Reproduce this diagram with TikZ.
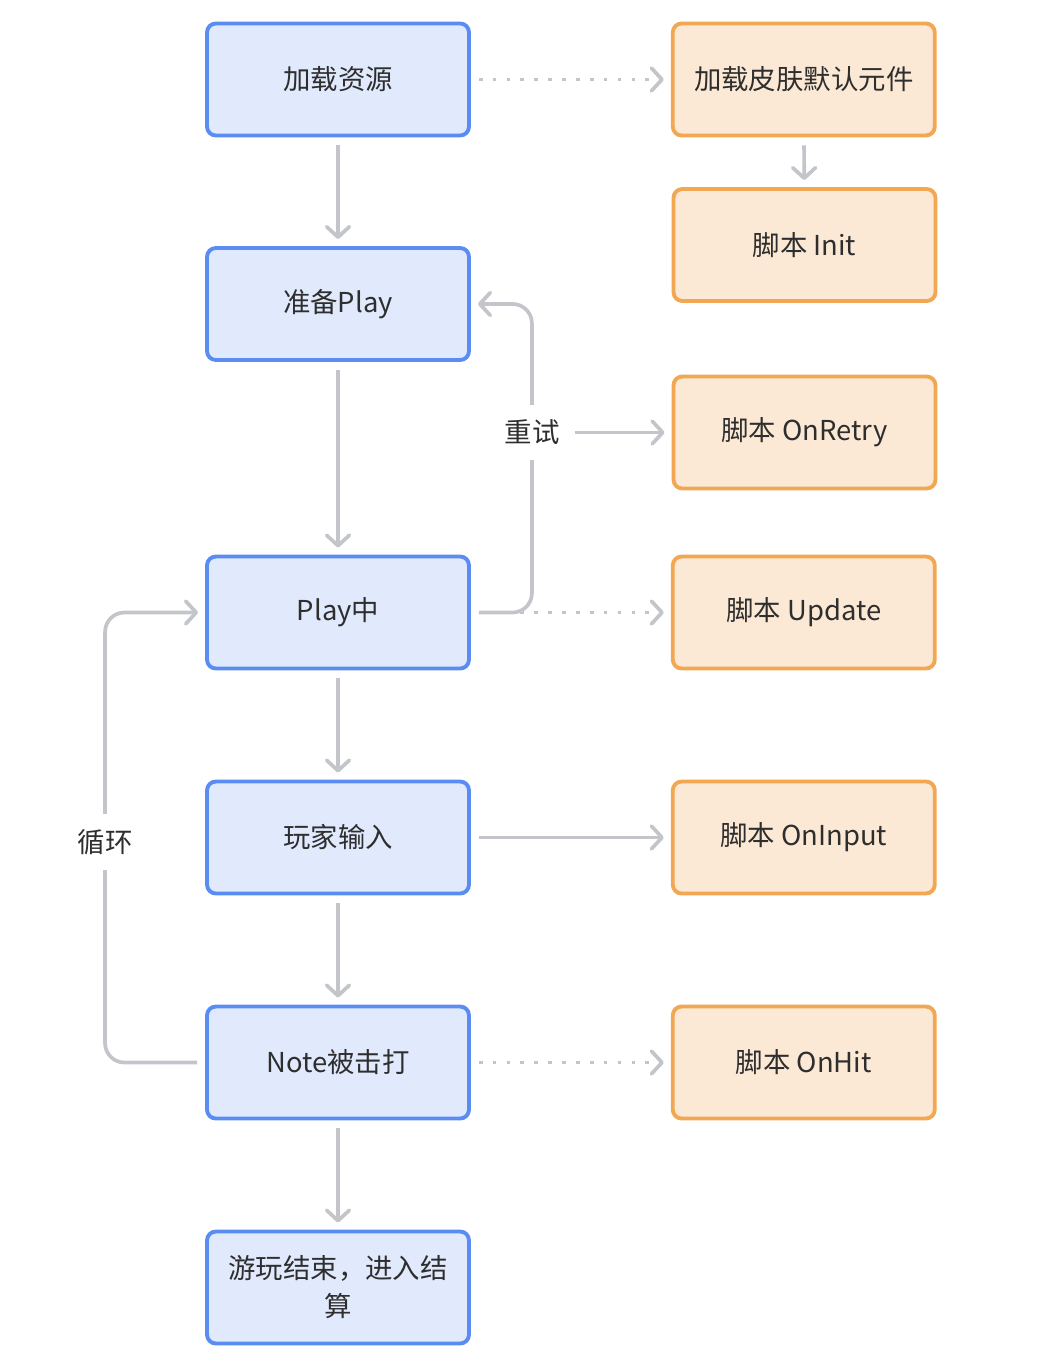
\documentclass[tikz,border=0pt]{standalone}
\usepackage{fontspec}
\setmainfont{Noto Sans CJK SC}
\usetikzlibrary{positioning}
\usetikzlibrary{arrows.meta}

\definecolor{blueline}{HTML}{5B8CF2}
\definecolor{bluefill}{HTML}{E1EAFC}
\definecolor{orangeline}{HTML}{F2A852}
\definecolor{orangefill}{HTML}{FCE9D5}
\definecolor{linkgray}{HTML}{C3C5CA}
\definecolor{txt}{HTML}{2E2E2E}

\begin{document}
\begin{tikzpicture}[
	x=0.02cm, y=-0.02cm,
	every node/.style={font=\fontsize{15.6}{21.6}\selectfont, text=txt},
	stage/.style={draw=blueline, fill=bluefill, line width=2.2pt, rounded corners=5pt, minimum width=5.24cm, minimum height=2.24cm, align=center},
	script/.style={stage, draw=orangeline, fill=orangefill},
	arrow/.style={draw=linkgray, line width=2.1pt, -{Straight Barb[length=6pt,width=13pt,round]}, shorten <=4.5pt, shorten >=4pt},
	dots/.style={arrow, dash pattern=on 2.1pt off 5.8pt},
	tag/.style={fill=white, inner sep=8.5pt},
]

\useasboundingbox (0,0) rectangle (1050,1372);

% Game stages
\node[stage] (load) at (338,79.5) {加载资源};
\node[stage] (prep) at (338,304) {准备Play};
\node[stage] (play) at (338,612.5) {Play中};
\node[stage] (input) at (338,837.5) {玩家输入};
\node[stage] (hit) at (338,1062.5) {Note被击打};
\node[stage] (finish) at (338,1287.5) {游玩结束，进入结\\算};

% Script callbacks
\node[script, right=4cm of load] (skin) {加载皮肤默认元件};
\node[script] (init) at (804.5,245) {脚本 Init};
\node[script] (retry) at (804.5,432.5) {脚本 OnRetry};
\node[script, right=4cm of play] (update) {脚本 Update};
\node[script, right=4cm of input] (oninput) {脚本 OnInput};
\node[script, right=4cm of hit] (onhit) {脚本 OnHit};

% Main flow
\draw[arrow] (load) -- (prep);
\draw[arrow] (prep) -- (play);
\draw[arrow] (play) -- (input);
\draw[arrow] (input) -- (hit);
\draw[arrow] (hit) -- (finish);

% Calls into scripts
\draw[dots] (load) -- (skin);
\draw[arrow] (skin) -- (init);
\draw[dots] (play) -- (update);
\draw[arrow] (input) -- (oninput);
\draw[dots] (hit) -- (onhit);

% Retry
\draw[arrow, rounded corners=11pt] (play.east) -- ++(61,0) |- (prep.east);
\node[tag] (redo) at (532,432.5) {重试};
\draw[arrow, shorten <=0pt] (redo) -- (retry);

% Loop
\draw[arrow, rounded corners=11pt] (hit.west) -- ++(-100,0) |- (play.west);
\node[tag] (again) at (105,842) {循环};
\end{tikzpicture}
\end{document}
